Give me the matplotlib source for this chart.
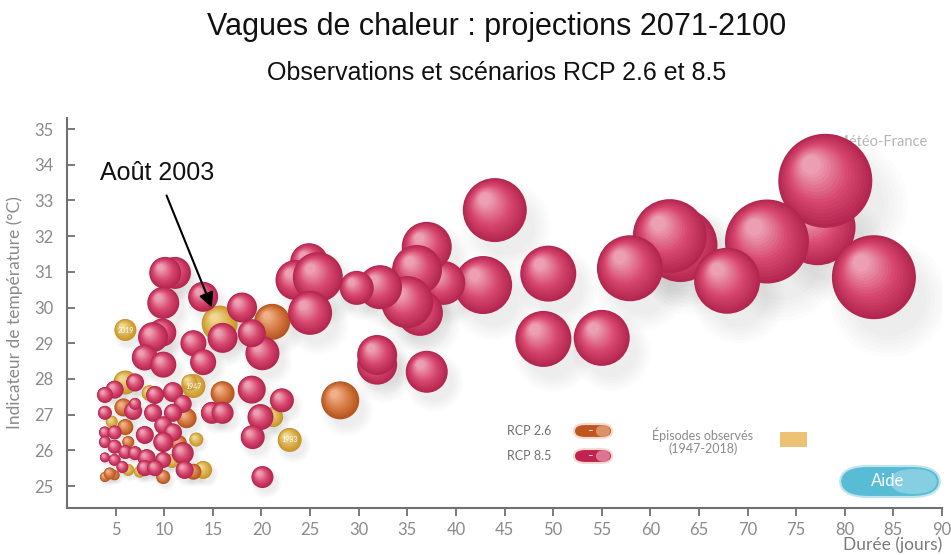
import matplotlib.pyplot as plt
import numpy as np
from matplotlib.patches import FancyBboxPatch, Rectangle

# scénario RCP 8.5 : durée (jours), indicateur de température (°C), sévérité
rcp85_duree = [77.2, 78.0, 72.0, 83.0, 63.1, 62.0, 57.9, 67.9, 49.5, 55.0, 49.0, 44.0, 42.8,
               38.7, 36.3, 37.0, 36.0, 35.0, 32.2, 29.8, 24.9, 23.5, 25.8, 25.0,
               31.9, 31.9, 37.0,
               20.1, 19.0, 18.0, 16.0, 14.0, 13.0, 14.0, 19.0, 22.1, 19.9, 19.1, 20.1,
               11.1, 10.1, 9.9, 9.8, 8.85, 8.0, 9.9, 14.9, 16.0,
               7.0, 4.9, 3.9, 9.05, 10.9, 11.9, 3.9, 6.8, 7.0, 8.85, 10.9,
               3.9, 4.9, 8.0, 9.9, 10.9, 3.9, 4.9, 6.0, 7.0, 8.2, 9.9, 11.9,
               9.9, 3.9, 4.9, 5.7, 8.0, 9.05, 12.1]
rcp85_temp = [32.25, 33.55, 31.85, 30.85, 31.75, 32.0, 31.1, 30.75, 30.95, 29.15, 29.12, 32.73, 30.63,
              30.69, 29.85, 31.7, 31.05, 30.15, 30.57, 30.55, 31.27, 30.77, 30.85, 29.85,
              28.4, 28.67, 28.2,
              28.72, 29.28, 30.0, 29.15, 30.3, 29.0, 28.47, 27.7, 27.4, 26.93, 26.37, 25.25,
              30.97, 30.97, 30.13, 29.3, 29.17, 28.6, 28.4, 27.05, 27.05,
              27.9, 27.7, 27.55, 27.55, 27.63, 27.3, 27.05, 27.1, 27.3, 27.05, 27.05,
              26.5, 26.5, 26.43, 26.7, 26.5, 26.23, 26.1, 25.95, 25.92, 25.78, 26.23, 25.92,
              25.73, 25.8, 25.73, 25.53, 25.5, 25.5, 25.45]
rcp85_sev = [38, 47, 42, 42, 37, 37, 33, 33, 28, 28, 28, 32, 29,
             22, 23, 25, 25, 26, 22, 17, 19, 20, 25, 22,
             20, 20, 21,
             17, 14, 15, 15, 15, 13, 13, 14, 12, 13, 12, 11,
             16, 16, 16, 14, 15, 13, 13, 11, 11,
             9, 9, 8, 9, 10, 9, 7, 9, 6, 9, 9,
             6, 7, 9, 9, 9, 6, 7, 7, 7, 9, 10, 11,
             8, 5, 6, 6, 8, 8, 9]

# scénario RCP 2.6
rcp26_duree = [21.1, 28.1, 16.0, 6.0, 3.9, 4.9, 9.9, 6.3, 5.8, 12.3, 11.5, 13.0, 4.4]
rcp26_temp = [29.6, 27.4, 27.6, 26.65, 25.25, 25.3, 25.25, 26.23, 27.2, 26.9, 26.2, 25.4, 25.35]
rcp26_sev = [18, 19, 12, 8, 5, 5, 7, 6, 9, 10, 8, 8, 6]

# épisodes observés (1947-2018)
obs_duree = [6.0, 15.7, 13.0, 22.9, 14.0, 6.0, 21.2, 4.6, 7.5, 10.8, 13.3, 6.3, 8.5, 12.6]
obs_temp = [29.37, 29.55, 27.8, 26.29, 25.45, 27.9, 26.93, 26.8, 25.4, 25.7, 26.3, 25.45, 27.6, 27.9]
obs_sev = [11, 18, 12, 12, 9, 12, 10, 6, 6, 7, 7, 6, 8, 8]
obs_annee = ['2019', '', '1947', '1983', '', '', '', '', '', '', '', '', '', '']

xticks = list(range(5, 95, 5))
yticks = list(range(25, 36))

plt.rcParams['font.family'] = ['Lato', 'DejaVu Sans']

fig = plt.figure(figsize=(9.51, 5.55), dpi=100)
ax = fig.add_axes([0.0705, 0.0847, 0.92, 0.7027])
ax.set_xlim(0, 90)
ax.set_ylim(24.384, 35.31)

px_x = ax.bbox.width / 90
px_y = ax.bbox.height / (35.31 - 24.384)


def melange(c1, c2, t):
    c1 = np.array(plt.matplotlib.colors.to_rgb(c1))
    c2 = np.array(plt.matplotlib.colors.to_rgb(c2))
    return tuple(c1 + (c2 - c1) * t)


def bulles(x, y, sev, bord, milieu, reflet, z):
    # ombre douce
    sx, sy, ss = [], [], []
    for xi, yi, r in zip(x, y, sev):
        for f in (0.9, 1.0, 1.1, 1.2, 1.3, 1.4):
            sx.append(xi + 0.35 * r / px_x)
            sy.append(yi - 0.5 * r / px_y)
            ss.append((2 * r * f * 0.72) ** 2)
    ax.scatter(sx, sy, s=ss, color='#707070', alpha=0.018, linewidths=0, zorder=1)

    # sphères avec reflet
    n = 16
    xs, ys, sz, cs = [], [], [], []
    for xi, yi, r in zip(x, y, sev):
        for k in range(n):
            t = k / (n - 1)
            f = 1 - 0.8 * t
            xs.append(xi - 0.3 * r * t / px_x)
            ys.append(yi + 0.34 * r * t / px_y)
            sz.append((2 * r * f * 0.72) ** 2)
            if t < 0.45:
                cs.append(melange(bord, milieu, t / 0.45))
            else:
                cs.append(melange(milieu, reflet, (t - 0.45) / 0.55))
    ax.scatter(xs, ys, s=sz, c=cs, linewidths=0, zorder=z)


bulles(obs_duree, obs_temp, obs_sev, '#c8942a', '#dcb352', '#f0d893', 3)
for xi, yi, lab in zip(obs_duree, obs_temp, obs_annee):
    if lab:
        ax.text(xi, yi, lab, color='white', fontsize=5, ha='center', va='center', zorder=3.5)
bulles(rcp26_duree, rcp26_temp, rcp26_sev, '#b5541f', '#d77a42', '#eeb089', 4)
bulles(rcp85_duree, rcp85_temp, rcp85_sev, '#b3264f', '#d8476f', '#ec9fb3', 5)

# axes
for s in ['top', 'right']:
    ax.spines[s].set_visible(False)
for s in ['left', 'bottom']:
    ax.spines[s].set_color('#707070')
    ax.spines[s].set_linewidth(1.5)
ax.set_xticks(xticks)
ax.set_yticks(yticks)
ax.tick_params(axis='x', direction='out', length=6, width=1.3, color='#707070',
               labelcolor='#8a8a8a', labelsize=12, pad=4)
ax.tick_params(axis='y', direction='in', length=6, width=1.3, color='#707070',
               labelcolor='#8a8a8a', labelsize=12, pad=10)
ax.set_ylabel('Indicateur de température (°C)', color='#8a8a8a', fontsize=12.5, labelpad=8)
fig.text(942 / 951, 1 - 545 / 555, 'Durée (jours)', color='#7a7a7a', fontsize=12.5,
         ha='right', va='center')

# titres
fig.text(0.522, 1 - 27 / 555, 'Vagues de chaleur : projections 2071-2100',
         family='Liberation Sans', fontsize=22, ha='center', va='center', color='#111111')
fig.text(0.522, 1 - 73 / 555, 'Observations et scénarios RCP 2.6 et 8.5',
         family='Liberation Sans', fontsize=18, ha='center', va='center', color='#111111')

# annotation
ax.annotate('Août 2003', xy=(14.9, 30.0), xytext=(9.3, 33.77),
            family='Liberation Sans', fontsize=18, ha='center', va='center', color='#111111',
            arrowprops=dict(arrowstyle='-|>', color='black', lw=1.5, mutation_scale=22,
                            shrinkA=6, shrinkB=0), zorder=6)

ax.text(0.983, 0.94, '©Météo-France', transform=ax.transAxes, color='#b5b5b5',
        fontsize=10.5, ha='right', va='center', zorder=0.5)

# légende
def fx(p):
    return p / 951


def fy(p):
    return 1 - p / 555


fig.text(fx(507), fy(431), 'RCP 2.6', color='#707070', fontsize=9, va='center')
fig.text(fx(507), fy(456), 'RCP 8.5', color='#707070', fontsize=9, va='center')
for yy, c1, c2 in [(431, '#c0561f', '#e3a27a'), (456, '#c0234f', '#e28aa3')]:
    fig.patches.append(FancyBboxPatch((fx(574), fy(yy + 7)), fx(38), 14 / 555,
                                      boxstyle='round,pad=0,rounding_size=0.012',
                                      transform=fig.transFigure, facecolor=c1,
                                      edgecolor='#f6d9cf', lw=1.5))
    fig.patches.append(FancyBboxPatch((fx(596), fy(yy + 6)), fx(14), 12 / 555,
                                      boxstyle='round,pad=0,rounding_size=0.01',
                                      transform=fig.transFigure, facecolor=c2,
                                      edgecolor='none', alpha=0.8))
    fig.text(fx(590), fy(yy), '–', color='white', fontsize=7, ha='center', va='center')
fig.text(fx(703), fy(435), 'Épisodes observés', color='#8a8a8a', fontsize=9, ha='center', va='center')
fig.text(fx(703), fy(449), '(1947-2018)', color='#8a8a8a', fontsize=9, ha='center', va='center')
fig.patches.append(Rectangle((fx(780), fy(447)), fx(27), 15 / 555, transform=fig.transFigure,
                             facecolor='#ecc274', edgecolor='none'))

# bouton Aide
fig.patches.append(FancyBboxPatch((fx(840), fy(497)), fx(100), 31 / 555,
                                  boxstyle='round,pad=0,rounding_size=0.03',
                                  transform=fig.transFigure, facecolor='#58bcd6',
                                  edgecolor='#bfe4ee', lw=1.5))
fig.patches.append(FancyBboxPatch((fx(890), fy(494)), fx(47), 25 / 555,
                                  boxstyle='round,pad=0,rounding_size=0.025',
                                  transform=fig.transFigure, facecolor='#a6dbe9',
                                  edgecolor='none', alpha=0.6))
fig.text(fx(888), fy(481), 'Aide', color='white', fontsize=12, ha='center', va='center')

fig.savefig('out.png', dpi=100)
